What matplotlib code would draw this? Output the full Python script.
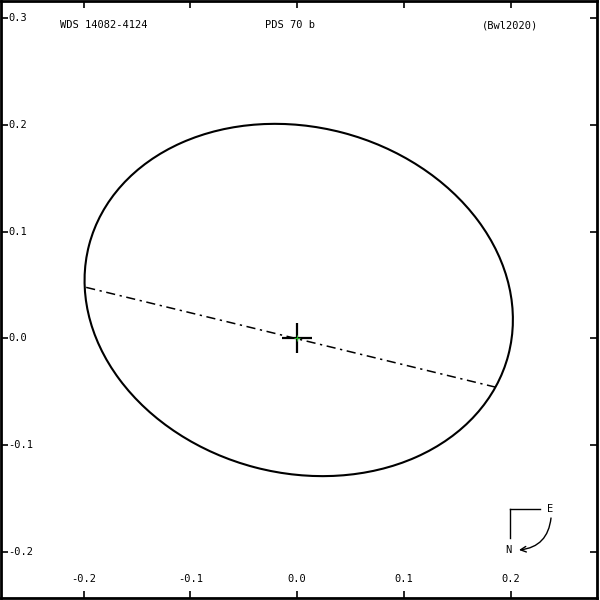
import matplotlib
matplotlib.use('Agg')
from matplotlib import pyplot as plt
from matplotlib.patches import Ellipse
import matplotlib.transforms as mtransforms

# orbit as seen on the sky (arcsec)
ellipse_center = (0.0015, 0.036)
ellipse_width = 0.406
ellipse_height = 0.324
ellipse_angle = -14.7

# line of nodes end points
nodes_x = [-0.1976, 0.187]
nodes_y = [0.0478, -0.0459]

x_ticks = [-0.2, -0.1, 0.0, 0.1, 0.2]
y_ticks = [0.3, 0.2, 0.1, 0.0, -0.1, -0.2]

title_left = 'WDS 14082-4124'
title_mid = 'PDS 70 b'
title_right = '(Bwl2020)'

MONO = 'DejaVu Sans Mono'

fig = plt.figure(figsize=(6, 6), dpi=100)
ax = fig.add_axes([0.002, 0.004, 0.993, 0.994])
ax.set_xlim(-0.2772, 0.2809)
ax.set_ylim(-0.2427, 0.3158)

for s in ax.spines.values():
    s.set_linewidth(2.0)

ax.set_xticks(x_ticks)
ax.set_yticks(y_ticks)
ax.tick_params(direction='in', length=5, width=1.2, top=True, right=True,
               labelbottom=False, labelleft=False)

# tick labels drawn inside the frame
xt = mtransforms.blended_transform_factory(ax.transData, ax.transAxes)
for v in x_ticks:
    ax.text(v, 0.022, f'{v:.1f}', transform=xt, ha='center', va='bottom',
            family=MONO, fontsize=7.5)
yt = mtransforms.blended_transform_factory(ax.transAxes, ax.transData)
for v in y_ticks:
    ax.text(0.012, v, f'{v:.1f}', transform=yt, ha='left', va='center',
            family=MONO, fontsize=7.5)

# orbit, line of nodes, primary
orbit = Ellipse(ellipse_center, ellipse_width, ellipse_height, angle=ellipse_angle,
                fill=False, edgecolor='black', linewidth=1.5)
ax.add_patch(orbit)
ax.plot(nodes_x, nodes_y, color='black', linestyle='-.', linewidth=1.1,
        dashes=(6, 3, 1.5, 3))
ax.plot([0], [0], marker='+', markersize=22, markeredgewidth=1.6, color='black')
ax.plot([0], [0], marker='+', markersize=4, markeredgewidth=0.8, color='#22aa22')

# header
ax.text(60 / 600, 1 - 25 / 600, title_left, transform=fig.transFigure,
        ha='left', va='center', family=MONO, fontsize=7.5)
ax.text(290 / 600, 1 - 25 / 600, title_mid, transform=fig.transFigure,
        ha='center', va='center', family=MONO, fontsize=7.5)
ax.text(538 / 600, 1 - 25 / 600, title_right, transform=fig.transFigure,
        ha='right', va='center', family=MONO, fontsize=7.5)

# compass (figure pixels, y down)
def fp(x, y):
    return (x / 600, 1 - y / 600)

fig.add_artist(plt.Line2D([fp(510, 509)[0], fp(540, 509)[0]],
                          [fp(510, 509)[1], fp(540, 509)[1]],
                          color='black', linewidth=1.0, transform=fig.transFigure))
fig.add_artist(plt.Line2D([fp(510, 509)[0], fp(510, 538)[0]],
                          [fp(510, 509)[1], fp(510, 538)[1]],
                          color='black', linewidth=1.0, transform=fig.transFigure))
fig.text(*fp(550, 509), 'E', ha='center', va='center', family=MONO, fontsize=7.5)
fig.text(*fp(508, 550), 'N', ha='center', va='center', family=MONO, fontsize=7.5)
ax.annotate('', xy=fp(519, 550), xycoords='figure fraction',
            xytext=fp(551, 518), textcoords='figure fraction',
            arrowprops=dict(arrowstyle='->', color='black', linewidth=1.0,
                            connectionstyle='arc3,rad=-0.4', shrinkA=0, shrinkB=0))

plt.savefig('out.png', dpi=100)
